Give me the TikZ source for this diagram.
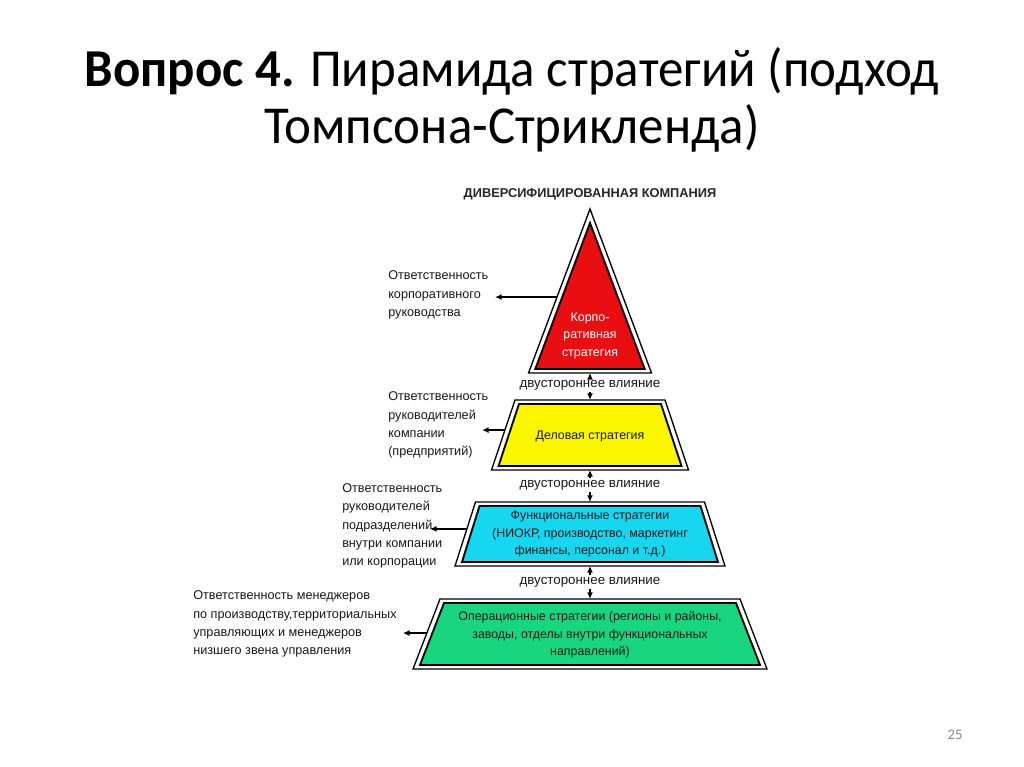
\documentclass[tikz,border=0pt]{standalone}
\usepackage{graphicx}
\usepackage{fontspec}
\setmainfont{Carlito}
\newfontfamily\arialfont{Liberation Sans}
\usetikzlibrary{calc, arrows.meta, positioning}

\definecolor{corpred}{RGB}{232,14,18}
\definecolor{bizyellow}{RGB}{250,246,0}
\definecolor{funccyan}{RGB}{22,214,240}
\definecolor{opgreen}{RGB}{24,214,128}
\definecolor{pagegray}{RGB}{137,137,137}

\tikzset{
  outerline/.style={black, line width=1pt},
  innerline/.style={black, line width=1.4pt},
  titletext/.style={font=\fontsize{40}{48}\selectfont, inner sep=0pt},
  headtext/.style={font=\arialfont\bfseries\fontsize{9.6}{11}\selectfont, text=black!85, inner sep=0pt},
  sidetext/.style={font=\arialfont\fontsize{9.5}{13.6}\selectfont, text=black!90, align=left, anchor=west, inner sep=0pt},
  boxtext/.style={font=\arialfont\fontsize{9.3}{13.2}\selectfont, text=black!90, align=center, inner sep=0pt},
  infltext/.style={font=\arialfont\fontsize{10}{11}\selectfont, text=black!90, inner sep=1.5pt},
  flow/.style={black, line width=1pt, -{Latex[length=5pt,width=4.5pt]}},
}

\begin{document}
\begin{tikzpicture}[x=0.75pt, y=-0.75pt]
    \newcommand*{\cx}{590}
    \newcommand*{\tier}[6]{%
      \coordinate (#1-tl) at (\cx-#4,#2);
      \coordinate (#1-tr) at (\cx+#4,#2);
      \coordinate (#1-br) at (\cx+#5,#3);
      \coordinate (#1-bl) at (\cx-#5,#3);
      \coordinate (#1-n) at (\cx,#2);
      \coordinate (#1-s) at (\cx,#3);
      \draw[outerline] (#1-tl) -- (#1-tr) -- (#1-br) -- (#1-bl) -- cycle;
      \draw[innerline, fill=#6] (\cx-#4+4,#2+4) -- (\cx+#4-4,#2+4) -- (\cx+#5-7,#3-4) -- (\cx-#5+7,#3-4) -- cycle;
    }
    \useasboundingbox[fill=white] (0,0) rectangle (1024,767);

    % title
    \node[titletext, anchor=base] (title1) at (512,86) {\scalebox{0.955}[1]{\textbf{Вопрос 4.} Пирамида стратегий (подход}};
    \node[titletext, anchor=base] (title2) at (512,143) {\scalebox{0.955}[1]{Томпсона-Стрикленда)}};

    \node[headtext] (company) at (\cx,194) {ДИВЕРСИФИЦИРОВАННАЯ КОМПАНИЯ};

    % corporate level
    \coordinate (tri-top) at (\cx,209);
    \coordinate (tri-bl) at (\cx-61.5,373);
    \coordinate (tri-br) at (\cx+61.5,373);
    \coordinate (tri-s) at (\cx,373);
    \draw[outerline] (tri-top) -- (tri-br) -- (tri-bl) -- cycle;
    \draw[innerline, fill=corpred] (\cx,223) -- (\cx+54.7,369) -- (\cx-54.7,369) -- cycle;
    \node[boxtext, text=white] (corplabel) at (\cx,336) {Корпо-\\ративная\\стратегия};

    % business, functional, operational levels
    \tier{biz}{400}{470}{75}{98.5}{bizyellow}
    \tier{func}{502}{566}{114.5}{135}{funccyan}
    \tier{op}{599}{669}{150}{177}{opgreen}
    \node[boxtext] (bizlabel) at (\cx,437) {Деловая стратегия};
    \node[boxtext] (funclabel) at (\cx,534) {Функциональные стратегии\\(НИОКР, производство, маркетинг\\финансы, персонал и т.д.)};
    \node[boxtext] (oplabel) at (\cx,635) {Операционные стратегии (регионы и районы,\\заводы, отделы внутри функциональных\\направлений)};

    % two-way influence
    \node[infltext] (infl1) at (\cx,385) {двустороннее влияние};
    \node[infltext] (infl2) at (\cx,485) {двустороннее влияние};
    \node[infltext] (infl3) at (\cx,582) {двустороннее влияние};
    \draw[flow] (infl1) -- (tri-s);
    \draw[flow] (infl1) -- (biz-n);
    \draw[flow] (infl2) -- (biz-s);
    \draw[flow] (infl2) -- (func-n);
    \draw[flow] (infl3) -- (func-s);
    \draw[flow] (infl3) -- (op-n);

    % responsibility
    \node[sidetext] (resp1) at (388,295) {Ответственность\\корпоративного\\руководства};
    \node[sidetext] (resp2) at (388,425) {Ответственность\\руководителей\\компании\\(предприятий)};
    \node[sidetext] (resp3) at (342,526) {Ответственность\\руководителей\\подразделений\\внутри компании\\или корпорации};
    \node[sidetext] (resp4) at (193,624) {Ответственность менеджеров\\по производству,территориальных\\управляющих и менеджеров\\низшего звена управления};
    \coordinate (e1) at ($(tri-top)!0.537!(tri-bl)$);
    \coordinate (h1) at ($(e1)+(-62,0)$);
    \coordinate (e2) at ($(biz-tl)!0.43!(biz-bl)$);
    \coordinate (h2) at ($(e2)+(-23,0)$);
    \coordinate (e3) at ($(func-tl)!0.42!(func-bl)$);
    \coordinate (h3) at ($(e3)+(-37,0)$);
    \coordinate (e4) at ($(op-tl)!0.486!(op-bl)$);
    \coordinate (h4) at ($(e4)+(-24,0)$);
    \foreach \i in {1,...,4}
      \draw[flow] (e\i) -- (h\i);

    \node[font=\fontsize{11}{13}\selectfont, text=pagegray, inner sep=0pt] (page) at (955,735) {25};
\end{tikzpicture}
\end{document}
